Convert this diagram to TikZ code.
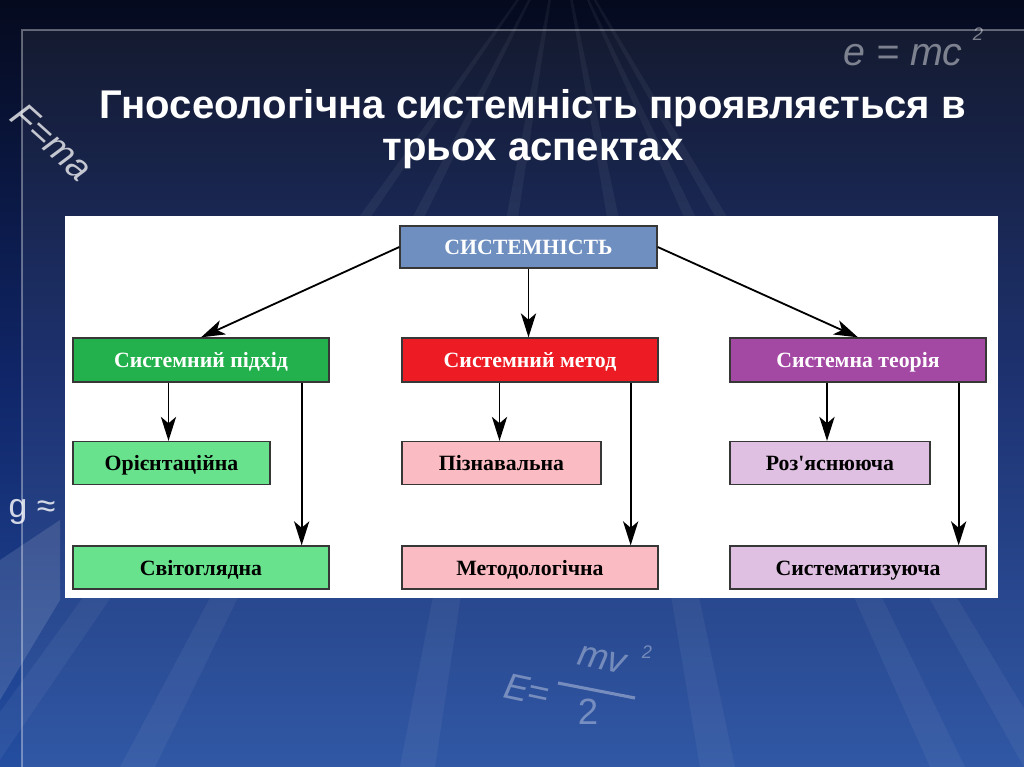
\documentclass[tikz,border=0pt]{standalone}
\usepackage{fontspec}
\setmainfont{Liberation Serif}
\setsansfont{Liberation Sans}
\usetikzlibrary{arrows.meta,calc}
\definecolor{fondhaut}{RGB}{5,10,30}
\definecolor{fondmilieu}{RGB}{16,38,105}
\definecolor{fondbas}{RGB}{36,78,160}
\definecolor{racinebleu}{RGB}{111,143,192}
\definecolor{vert}{RGB}{34,177,76}
\definecolor{vertclair}{RGB}{104,226,140}
\definecolor{rouge}{RGB}{237,28,36}
\definecolor{rose}{RGB}{250,188,194}
\definecolor{violet}{RGB}{163,73,164}
\definecolor{lilas}{RGB}{224,192,226}
\definecolor{bord}{RGB}{55,55,55}
\tikzset{
  >={Stealth[length=6mm, width=3.8mm, inset=1.6mm]},
  caseracine/.style={draw=bord, line width=0.9pt, fill=racinebleu, text=white,
    font=\fontsize{15.5}{18}\selectfont\bfseries, inner sep=2pt,
    text height=12pt, text depth=1pt,
    minimum width=6.425cm, minimum height=1.05cm},
  caseaspect/.style={draw=bord, line width=0.9pt, fill=#1, text=white,
    font=\fontsize{15.5}{18}\selectfont\bfseries, inner sep=2pt,
    text height=12pt, text depth=1pt,
    minimum width=6.4cm, minimum height=1.1cm},
  casefonction/.style={draw=bord, line width=0.9pt, fill=#1, text=black,
    font=\fontsize{15.5}{18}\selectfont\bfseries, inner sep=2pt,
    text height=12pt, text depth=1pt,
    minimum width=6.4cm, minimum height=1.075cm},
  fleche/.style={->, line width=1.3pt, draw=black},
  formule/.style={text=white, font=\sffamily\itshape, inner sep=0pt},
}
\begin{document}
\begin{tikzpicture}[x=0.025cm, y=-0.025cm]
  \useasboundingbox (0,0) rectangle (1024,767);
  % fond
  \shade[top color=fondhaut, bottom color=fondbas, middle color=fondmilieu] (0,0) rectangle (1024,767);
  \fill[white, opacity=0.06] (22,30) rectangle (1024,767);
  \draw[white, opacity=0.35, line width=1.5pt] (22,767) -- (22,30) -- (1024,30);
  \foreach \xb in {-40, 120, 400, 700, 930, 1024}
    \fill[white, opacity=0.05] (560,-60) -- (\xb,767) -- ++(35,0) -- cycle;
  \fill[white, opacity=0.12] (0,560) -- (60,520) -- (60,600) -- (0,700) -- cycle;
  % formules
  \node[formule, opacity=0.45, font=\sffamily\itshape\fontsize{28}{30}\selectfont] (emc) at (903,55) {e = mc};
  \node[formule, opacity=0.45, font=\sffamily\itshape\fontsize{13}{15}\selectfont] (emc2) at (978,34) {2};
  \node[formule, opacity=0.75, rotate=-42, font=\sffamily\itshape\fontsize{26}{28}\selectfont] (fma) at (52,142) {F=ma};
  \node[formule, opacity=0.8, font=\sffamily\fontsize{24}{26}\selectfont] (gapp) at (32,512) {g ≈};
  \node[formule, opacity=0.35, rotate=-12, font=\sffamily\itshape\fontsize{26}{28}\selectfont] (ee) at (527,690) {E=};
  \node[formule, opacity=0.35, rotate=-12, font=\sffamily\itshape\fontsize{26}{28}\selectfont] (mv) at (602,660) {mv};
  \node[formule, opacity=0.35, font=\sffamily\itshape\fontsize{13}{15}\selectfont] (mv2) at (647,652) {2};
  \draw[white, opacity=0.35, line width=2.2pt] (558,683) -- (635,698);
  \node[formule, opacity=0.35, font=\sffamily\fontsize{26}{28}\selectfont] (deux) at (588,712) {2};
  % titre
  \node[text=white, align=center, font=\sffamily\bfseries\fontsize{28.5}{30}\selectfont]
    (titre) at (533,129) {Гносеологічна системність проявляється в\\трьох аспектах};
  % panneau
  \fill[white] (65,216) rectangle (998,598);
  % cases
  \node[caseracine] (sys) at (528.5,247) {СИСТЕМНІСТЬ};
  \node[caseaspect=vert] (pidhid) at (201,360) {Системний підхід};
  \node[caseaspect=rouge] (metod) at (530,360) {Системний метод};
  \node[caseaspect=violet] (teor) at (858,360) {Системна теорія};
  \node[casefonction=vertclair, minimum width=4.925cm] (orient) at (171.5,463) {Орієнтаційна};
  \node[casefonction=vertclair] (svit) at (201,567.5) {Світоглядна};
  \node[casefonction=rose, minimum width=4.975cm] (pizn) at (501.5,463) {Пізнавальна};
  \node[casefonction=rose] (metodol) at (530,567.5) {Методологічна};
  \node[casefonction=lilas, minimum width=5cm] (rozj) at (830,463) {Роз\textquotesingle яснююча};
  \node[casefonction=lilas] (sistem) at (858,567.5) {Систематизуюча};
  % points d'arrivee
  \coordinate (a1) at ($(orient.north)+(-3,0)$);
  \coordinate (a2) at ($(pizn.north)+(-2,0)$);
  \coordinate (a3) at ($(rozj.north)+(-3,0)$);
  % fleches
  \draw[fleche] (sys.west) -- (pidhid.north);
  \draw[fleche] (sys.south) -- (metod.north -| sys.south);
  \draw[fleche] (sys.east) -- (teor.north);
  \draw[fleche] (a1 |- pidhid.south) -- (a1);
  \draw[fleche] ($(pidhid.south east)+(-28,0)$) -- ($(svit.north east)+(-28,0)$);
  \draw[fleche] (a2 |- metod.south) -- (a2);
  \draw[fleche] ($(metod.south east)+(-28,0)$) -- ($(metodol.north east)+(-28,0)$);
  \draw[fleche] (a3 |- teor.south) -- (a3);
  \draw[fleche] ($(teor.south east)+(-28,0)$) -- ($(sistem.north east)+(-28,0)$);
\end{tikzpicture}
\end{document}
